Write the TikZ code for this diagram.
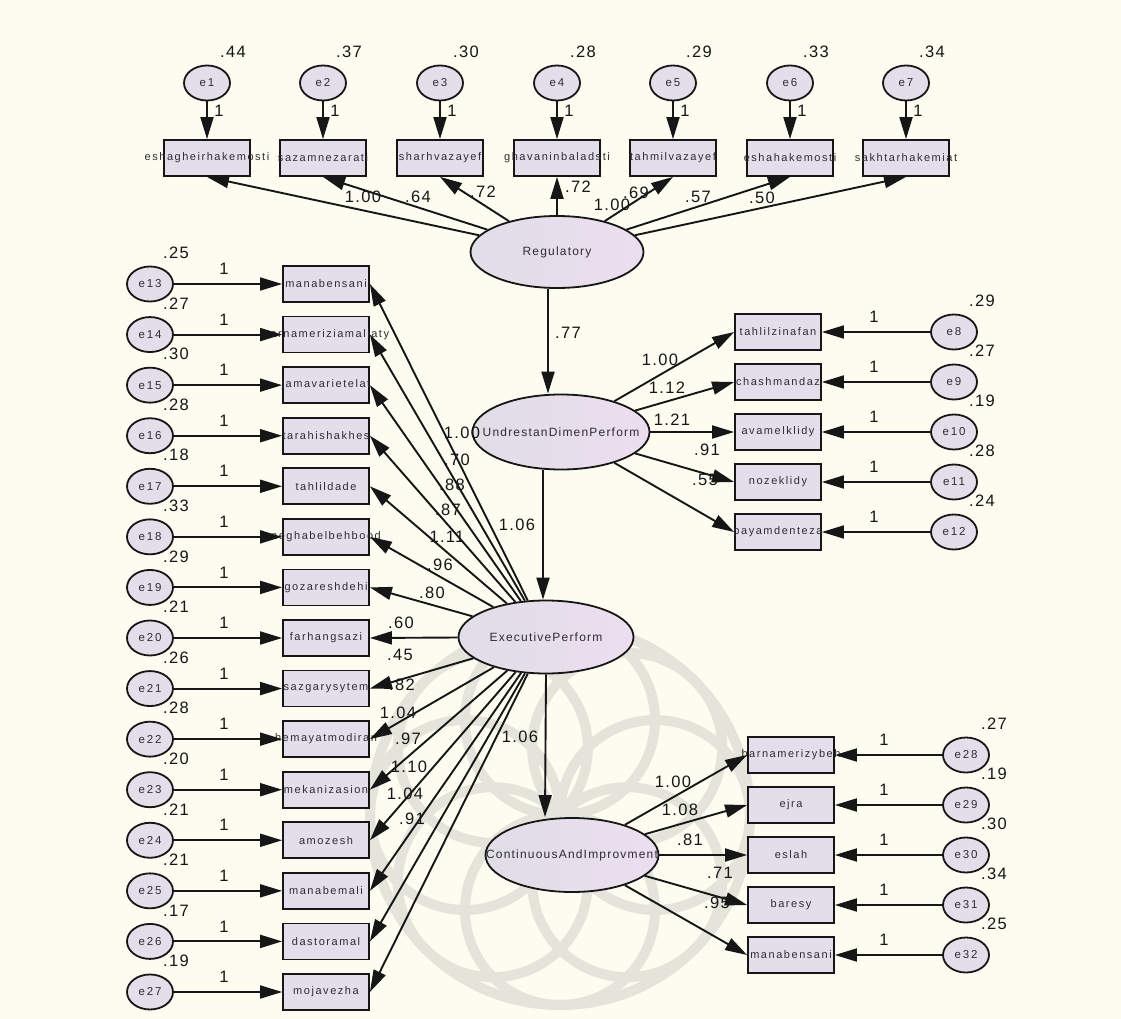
\documentclass[tikz,border=0pt]{standalone}
\usepackage{fontspec}
\setmainfont{Liberation Sans}
\newfontfamily\latfont[LetterSpace=10]{Liberation Sans}
\newfontfamily\boxfont[LetterSpace=14]{Liberation Sans}
\newfontfamily\errfont[LetterSpace=16]{Liberation Sans}
\newfontfamily\numfont[LetterSpace=8]{Liberation Sans}
\usetikzlibrary{shapes.geometric,arrows.meta}

\definecolor{paper}{RGB}{252,252,241}
\definecolor{nodefill}{RGB}{228,222,234}
\definecolor{latleft}{RGB}{224,222,230}
\definecolor{latright}{RGB}{236,222,240}
\definecolor{ink}{RGB}{22,22,22}
\definecolor{txt}{RGB}{45,45,50}
\definecolor{ornament}{RGB}{228,228,218}

\tikzset{
  lat/.style={ellipse, draw=ink, line width=1.8pt, left color=latleft,
    right color=latright, inner sep=0pt, minimum width=173pt, minimum height=72pt},
  err/.style={ellipse, draw=ink, line width=1.8pt, fill=nodefill, inner sep=0pt,
    minimum width=46pt, minimum height=35pt},
  obs/.style={rectangle, draw=ink, line width=1.8pt, fill=nodefill, inner sep=0pt,
    minimum width=86pt, minimum height=36pt},
  lattxt/.style={inner sep=0pt, text=txt, font=\latfont\fontsize{12}{12}\selectfont},
  boxtxt/.style={inner sep=0pt, text=txt, font=\boxfont\fontsize{11}{11}\selectfont},
  errtxt/.style={inner sep=0pt, text=txt, font=\errfont\fontsize{11.5}{11.5}\selectfont},
  num/.style={inner sep=0pt, text=ink, font=\numfont\fontsize{16.5}{16.5}\selectfont},
  link/.style={draw=ink, line width=1.9pt, -{Triangle[length=22pt,width=13pt]}}
}

\begin{document}
\begin{tikzpicture}[x=1pt,y=-1pt]
\useasboundingbox (0,0) rectangle (1121,1019);
\fill[paper] (0,0) rectangle (1121,1019);

% faint rosette ornament in the lower half
\begin{scope}
  \clip (330,585) rectangle (830,1019);
  \foreach \a in {0,45,...,315}
    \draw[ornament, line width=10pt] (560,815) ++(\a:95) circle (95);
  \draw[ornament, line width=10pt] (560,815) circle (190);
\end{scope}

% latent variables
\node[lat, label={[lattxt]center:Regulatory}] (reg) at (557,252) {};
\node[lat, minimum width=177pt, minimum height=75pt,
      label={[lattxt]center:UndrestanDimenPerform}] (und) at (561,432) {};
\node[lat, minimum width=175pt, minimum height=73pt,
      label={[lattxt]center:ExecutivePerform}] (exe) at (546,637) {};
\node[lat, minimum height=74pt,
      label={[lattxt]center:ContinuousAndImprovment}] (cont) at (572,855) {};

% Regulatory indicators (top row)
\foreach \n/\x/\v/\name in {1/207/.44/eshagheirhakemosti, 2/323/.37/sazamnezarati,
    3/440/.30/sharhvazayef, 4/557/.28/ghavaninbaladsti, 5/673/.29/tahmilvazayef,
    6/790/.33/eshahakemosti, 7/906/.34/sakhtarhakemiat} {
  \node[err, label={[errtxt]center:e\n}] (e\n) at (\x,83) {};
  \node[obs, label={[boxtxt]center:\name}] (b\n) at (\x,158) {};
  \node[num] (v\n) at (\x+26,52) {\v};
  \node[num] (w\n) at (\x+12,111) {1};
}

% UndrestanDimenPerform indicators (right)
\foreach \n/\v/\name [count=\k from 0] in {8/.29/tahlilzinafan, 9/.27/chashmandaz,
    10/.19/avamelklidy, 11/.28/nozeklidy, 12/.24/payamdenteza} {
  \pgfmathsetmacro\yy{332+50*\k}
  \node[err, label={[errtxt]center:e\n}] (e\n) at (954,\yy) {};
  \node[obs, label={[boxtxt]center:\name}] (b\n) at (778,\yy) {};
  \node[num] (v\n) at (982,\yy-31) {\v};
  \node[num] (w\n) at (874,\yy-15) {1};
}

% ExecutivePerform indicators (left column)
\foreach \n/\v/\name [count=\k from 0] in {13/.25/manabensani,
    14/.27/barnameriziamaliaty, 15/.30/jamavarietelat, 16/.28/tarahishakhes,
    17/.18/tahlildade, 18/.33/neghabelbehbood, 19/.29/gozareshdehi,
    20/.21/farhangsazi, 21/.26/sazgarysytem, 22/.28/hemayatmodiran,
    23/.20/mekanizasion, 24/.21/amozesh, 25/.21/manabemali,
    26/.17/dastoramal, 27/.19/mojavezha} {
  \pgfmathsetmacro\yy{284+50.57*\k}
  \node[err, label={[errtxt]center:e\n}] (e\n) at (150,\yy) {};
  \node[obs, label={[boxtxt]center:\name}] (b\n) at (326,\yy) {};
  \node[num] (v\n) at (176,\yy-31) {\v};
  \node[num] (w\n) at (224,\yy-15) {1};
}

% ContinuousAndImprovment indicators (bottom right)
\foreach \n/\v/\name [count=\k from 0] in {28/.27/barnamerizybeh, 29/.19/ejra,
    30/.30/eslah, 31/.34/baresy, 32/.25/manabensani} {
  \pgfmathsetmacro\yy{755+50*\k}
  \node[err, label={[errtxt]center:e\n}] (e\n) at (966,\yy) {};
  \node[obs, label={[boxtxt]center:\name}] (b\n) at (791,\yy) {};
  \node[num] (v\n) at (994,\yy-31) {\v};
  \node[num] (w\n) at (884,\yy-15) {1};
}

% error terms to indicators
\foreach \n in {1,...,32} \draw[link] (e\n) -- (b\n);

% factor loadings
\foreach \n in {1,...,7} \draw[link] (reg) -- (b\n.south);
\foreach \n in {8,...,12} \draw[link] (und) -- (b\n.west);
\foreach \n in {13,...,27} \draw[link] (exe) -- (b\n.east);
\foreach \n in {28,...,32} \draw[link] (cont) -- (b\n.west);

% structural paths
\draw[link] ([xshift=-9pt]reg.south) -- ([xshift=-13pt]und.north);
\draw[link] ([xshift=-18pt]und.south) -- ([xshift=-3pt]exe.north);
\draw[link] (exe.south) -- ([xshift=-27pt]cont.north);

% path coefficients
\node[num] (p1) at (568,333) {.77};
\node[num] (p2) at (517,525) {1.06};
\node[num] (p3) at (520,737) {1.06};

% Regulatory loadings
\foreach \t/\x/\y [count=\k] in {1.00/363/197, .64/418/197, .72/483/192, .72/578/187,
    1.00/612/205, .69/636/193, .57/698/197, .50/762/198}
  \node[num] (r\k) at (\x,\y) {\t};

% UndrestanDimenPerform loadings
\foreach \t/\x/\y [count=\k] in {1.00/660/360, 1.12/667/388, 1.21/672/420,
    .91/707/450, .55/705/480}
  \node[num] (u\k) at (\x,\y) {\t};

% ExecutivePerform loadings
\foreach \t/\x/\y [count=\k] in {1.00/462/433, .70/457/460, .88/452/485, .87/448/510,
    1.11/447/537, .96/440/565, .80/432/593, .60/401/623, .45/400/655, .82/402/685,
    1.04/398/713, .97/408/739, 1.10/409/767, 1.04/405/794, .91/412/819}
  \node[num] (x\k) at (\x,\y) {\t};

% ContinuousAndImprovment loadings
\foreach \t/\x/\y [count=\k] in {1.00/673/782, 1.08/680/810, .81/690/840,
    .71/720/873, .95/717/903}
  \node[num] (c\k) at (\x,\y) {\t};
\end{tikzpicture}
\end{document}
